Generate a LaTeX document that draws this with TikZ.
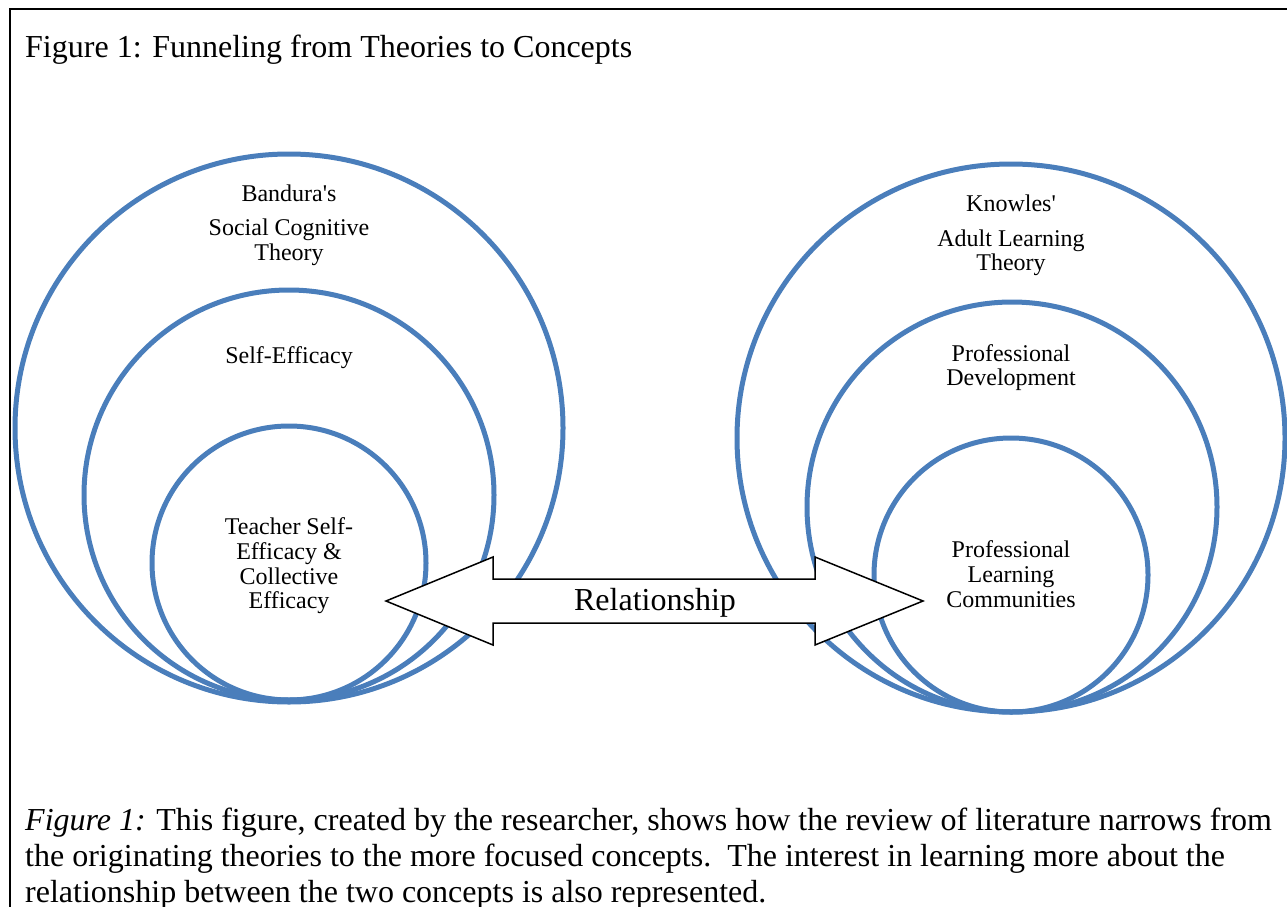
\documentclass[tikz,border=0pt]{standalone}
\usepackage{fontspec}
\setmainfont{Liberation Serif}
\newfontfamily\plainserif{Liberation Serif}
\definecolor{ringblue}{RGB}{74,126,187}
\begin{document}
\begin{tikzpicture}[x=1pt,y=-1pt,
  ring/.style={circle, draw=ringblue, line width=5pt, minimum size=#1, inner sep=0pt},
  lbl/.style={anchor=base, inner sep=0pt, font=\plainserif\fontsize{24}{28}\selectfont},
  bigtext/.style={inner sep=0pt, font=\fontsize{32}{36}\selectfont},
  relarrow/.style={draw=black, line width=1.5pt, fill=white, line join=miter}]
\useasboundingbox (0,0) rectangle (1287,907);
\clip (0,0) rectangle (1287,907);
% frame
\draw[line width=2pt] (1300,9) -- (10,9) -- (10,920);
% title
\node[bigtext, anchor=base west] (title) at (25,57) {Figure 1: Funneling from Theories to Concepts};
% left circles
\node[ring=548pt] (L1) at (289,428) {};
\node[ring=410pt] (L2) at (289,495) {};
\node[ring=274pt] (L3) at (289,563) {};
% right circles
\node[ring=548pt] (R1) at (1011,438) {};
\node[ring=410pt] (R2) at (1012,507) {};
\node[ring=274pt] (R3) at (1011,575) {};
% arrow
\draw[relarrow] (386,601) -- (493,557) -- (493,579) -- (815,579) -- (815,557) -- (923,601)
  -- (815,645) -- (815,623) -- (493,623) -- (493,645) -- cycle;
\node[bigtext, anchor=base] (rel) at (655,610) {Relationship};
% left labels
\node[lbl] (l1a) at (289,201) {Bandura's};
\node[lbl] (l1b) at (289,235) {Social Cognitive};
\node[lbl] (l1c) at (289,260) {Theory};
\node[lbl] (l2a) at (289,363) {Self-Efficacy};
\node[lbl] (l3a) at (289,534) {Teacher Self-};
\node[lbl] (l3b) at (289,559) {Efficacy \&};
\node[lbl] (l3c) at (289,584) {Collective};
\node[lbl] (l3d) at (289,608) {Efficacy};
% right labels
\node[lbl] (r1a) at (1011,211) {Knowles'};
\node[lbl] (r1b) at (1011,246) {Adult Learning};
\node[lbl] (r1c) at (1011,270) {Theory};
\node[lbl] (r2a) at (1011,361) {Professional};
\node[lbl] (r2b) at (1011,385) {Development};
\node[lbl] (r3a) at (1011,557) {Professional};
\node[lbl] (r3b) at (1011,582) {Learning};
\node[lbl] (r3c) at (1011,607) {Communities};
% caption
\node[bigtext, anchor=base west] (cap1) at (25,830) {\textit{Figure 1:} This figure, created by the researcher, shows how the review of literature narrows from};
\node[bigtext, anchor=base west] (cap2) at (25,866) {the originating theories to the more focused concepts.\ \ The interest in learning more about the};
\node[bigtext, anchor=base west] (cap3) at (25,902) {relationship between the two concepts is also represented.};
\end{tikzpicture}
\end{document}
